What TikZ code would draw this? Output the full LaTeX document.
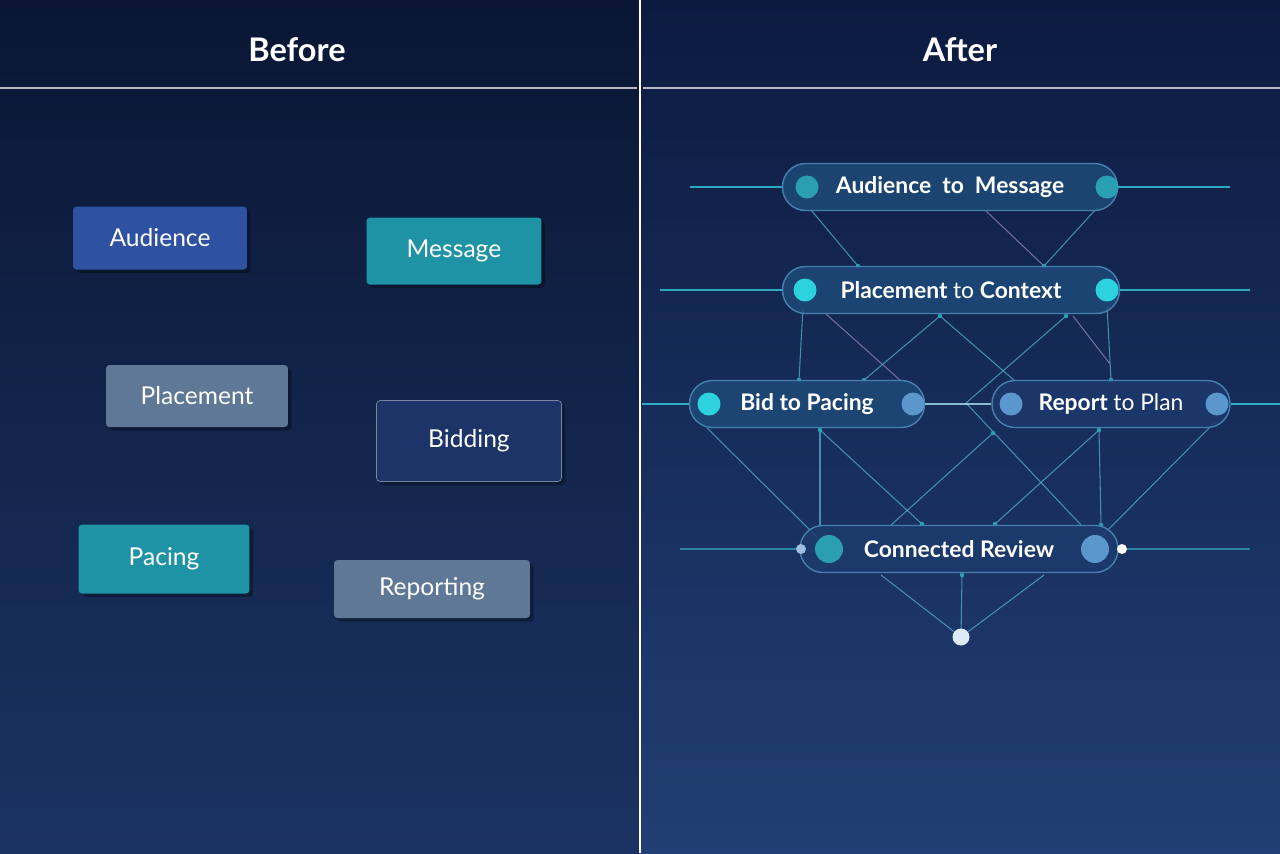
\documentclass[tikz,border=0pt]{standalone}
\usepackage{fontspec}
\setmainfont{Lato}
\usetikzlibrary{positioning,shadows}
\definecolor{bgtop}{HTML}{0A1634}
\definecolor{bgbot}{HTML}{1B3362}
\definecolor{rtop}{HTML}{0C1A40}
\definecolor{rbot}{HTML}{213F74}
\definecolor{audblue}{HTML}{2F51A2}
\definecolor{tealbox}{HTML}{1F93A6}
\definecolor{slatebox}{HTML}{5F7896}
\definecolor{navybox}{HTML}{1D3468}
\definecolor{pillfill}{HTML}{1E4A78}
\definecolor{pilledge}{HTML}{4680AE}
\definecolor{glow}{HTML}{35D6E6}
\definecolor{dotteal}{HTML}{2A9FB4}
\definecolor{dotcyan}{HTML}{2CD3DE}
\definecolor{dotblue}{HTML}{5B96CC}
\definecolor{wire}{HTML}{4FA7C4}
\definecolor{wirepurple}{HTML}{8A7FB8}
\begin{document}
\begin{tikzpicture}[x=0.02cm, y=-0.02cm,
  oldbox/.style={rectangle, rounded corners=2pt, text=white, font=\fontsize{14}{16}\selectfont,
    drop shadow={opacity=0.3, fill=black, shadow xshift=2pt, shadow yshift=-2pt}},
  pill/.style={rectangle, rounded corners=0.46cm, minimum height=0.94cm, fill=pillfill, fill opacity=0.85,
    text opacity=1, draw=pilledge, line width=0.8pt, text=white, font=\bfseries\fontsize{13}{15}\selectfont},
  knob/.style={circle, inner sep=0pt, minimum size=0.46cm},
  link/.style={wire, line width=0.6pt, opacity=0.8},
  glowline/.style={glow, line width=1.4pt, opacity=0.75},
  title/.style={text=white, font=\fontsize{18.5}{20}\selectfont\bfseries}]
   % background
   \useasboundingbox (0,0) rectangle (1280,853);
   \shade[top color=bgtop, bottom color=bgbot] (0,0) rectangle (640,853);
   \shade[top color=rtop, bottom color=rbot] (640,0) rectangle (1280,853);
   \draw[white, line width=1.2pt] (640,0) -- (640,853);
   \draw[white!70!bgtop, line width=0.6pt] (0,88) -- (637,88);
   \draw[white!70!rtop, line width=0.6pt] (643,88) -- (1280,88);
   \node[title] (before) at (297,50) {Before};
   \node[title] (after) at (960,50) {After};
   % before: scattered boxes
   \node[oldbox, fill=audblue, minimum width=3.48cm, minimum height=1.26cm] (aud) at (160,238) {Audience};
   \node[oldbox, fill=tealbox, minimum width=3.5cm, minimum height=1.34cm] (msg) at (454,251) {Message};
   \node[oldbox, fill=slatebox, minimum width=3.64cm, minimum height=1.24cm] (plc) at (197,396) {Placement};
   \node[oldbox, fill=navybox, draw=navybox!60!white, minimum width=3.7cm, minimum height=1.62cm] (bid) at (469,441) {Bidding};
   \node[oldbox, fill=tealbox, minimum width=3.42cm, minimum height=1.38cm] (pac) at (164,559) {Pacing};
   \node[oldbox, fill=slatebox, minimum width=3.92cm, minimum height=1.16cm] (rep) at (432,589) {Reporting};
   % after: network of pills
   \begin{scope}
    \coordinate (a1) at (811,210); \coordinate (a2) at (985,210); \coordinate (a3) at (1097,208);
    \coordinate (p0) at (858,266); \coordinate (p4) at (1044,266);
    \coordinate (p1) at (803,307); \coordinate (p2) at (826,314); \coordinate (p3) at (940,316);
    \coordinate (p5) at (1066,316); \coordinate (p6) at (1073,316); \coordinate (p7) at (1107,306);
    \coordinate (b0) at (799,380); \coordinate (b1) at (864,380); \coordinate (b2) at (901,381);
    \coordinate (r0) at (1015,381); \coordinate (r1) at (1111,380); \coordinate (r6) at (1110,364);
    \coordinate (mid) at (966,403);
    \coordinate (b3) at (707,428); \coordinate (b4) at (820,430);
    \coordinate (r2) at (993,433); \coordinate (r3) at (1099,430); \coordinate (r4) at (1215,422);
    \coordinate (c1) at (818,538); \coordinate (c2) at (820,525); \coordinate (c3) at (891,525);
    \coordinate (c4) at (922,524); \coordinate (c5) at (995,524); \coordinate (c6) at (1081,525);
    \coordinate (c7) at (1101,525); \coordinate (c8) at (1101,537);
    \coordinate (d1) at (881,575); \coordinate (d2) at (962,575); \coordinate (d3) at (1044,575);
   \end{scope}
   \begin{scope}[every path/.style={link}]
    \draw (a1) -- (p0); \draw[wirepurple] (a2) -- (p4); \draw (a3) -- (p4);
    \draw (p1) -- (b0); \draw[wirepurple] (p2) -- (b2); \draw (p3) -- (b1); \draw (p3) -- (r0);
    \draw (p5) -- (mid); \draw[wirepurple] (p6) -- (r6); \draw (p7) -- (r1);
    \draw (b3) -- (c1); \draw (b4) -- (c2); \draw (b4) -- (c4);
    \draw (r2) -- (c3); \draw (mid) -- (c6);
    \draw (r3) -- (c7); \draw (r3) -- (c5); \draw (r4) -- (c8);
    \draw (d1) -- (961,637); \draw (d2) -- (961,637); \draw (d3) -- (961,637);
   \end{scope}
   \foreach \p in {p0,p4,p3,p5,b0,b1,r1,b4,r2,r3,c4,c5,c7,d2}
    \fill[dotteal] (\p) circle (0.045cm);
   \node[pill, minimum width=6.7cm] (am) at (950,187) {Audience\ \ to\ \ Message};
   \node[pill, minimum width=6.74cm] (pc) at (951,290) {Placement \mdseries to\ \bfseries Context};
   \node[pill, minimum width=4.7cm] (bp) at (807,404) {Bid\ to\ Pacing};
   \node[pill, fill=navybox!80!pillfill, minimum width=4.76cm] (rp) at (1111,404) {Report \mdseries to Plan};
   \node[pill, fill=navybox!70!pillfill, minimum width=6.36cm] (cr) at (959,549) {Connected Review};
   \node[circle, fill=white!80!dotblue, inner sep=0pt, minimum size=0.34cm] (hub) at (961,637) {};
   % knobs
   \node[knob, fill=dotteal] (amL) at (807,187) {};
   \node[knob, fill=dotteal] (amR) at (1107,187) {};
   \node[knob, fill=dotcyan] (pcL) at (805,290) {};
   \node[knob, fill=dotcyan] (pcR) at (1107,290) {};
   \node[knob, fill=dotcyan] (bpL) at (709,404) {};
   \node[knob, fill=dotblue] (bpR) at (913,404) {};
   \node[knob, fill=dotblue] (rpL) at (1011,404) {};
   \node[knob, fill=dotblue] (rpR) at (1217,404) {};
   \node[knob, fill=dotteal, minimum size=0.56cm] (crL) at (829,549) {};
   \node[knob, fill=dotblue, minimum size=0.56cm] (crR) at (1095,549) {};
   \node[circle, fill=dotblue!60!white, inner sep=0pt, minimum size=0.2cm] (crLL) at (801,549) {};
   \node[circle, fill=white, inner sep=0pt, minimum size=0.2cm] (crRR) at (1122,549) {};
   % glowing side lines
   \coordinate (g1) at (690,187); \coordinate (g2) at (1230,187);
   \coordinate (g3) at (660,290); \coordinate (g4) at (1250,290);
   \coordinate (g5) at (642,404); \coordinate (g6) at (1280,404);
   \coordinate (g7) at (680,549); \coordinate (g8) at (1250,549);
   \draw[glowline] (g1) -- (am.west); \draw[glowline] (am.east) -- (g2);
   \draw[glowline] (g3) -- (pc.west); \draw[glowline] (pc.east) -- (g4);
   \draw[glowline] (g5) -- (bp.west); \draw[glowline] (rp.east) -- (g6);
   \draw[glowline, white!60!glow] (bp.east) -- (rp.west);
   \draw[glowline, opacity=0.5] (g7) -- (crLL); \draw[glowline, opacity=0.5] (crRR) -- (g8);
\end{tikzpicture}
\end{document}
